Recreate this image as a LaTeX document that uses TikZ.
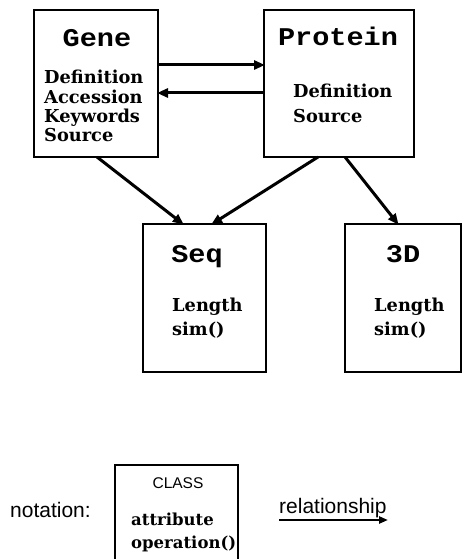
\documentclass[tikz,border=0pt]{standalone}
\usepackage{fontspec}
\setmainfont{DejaVu Serif}
\newfontfamily\titlefont{Liberation Mono}[FakeStretch=1.12]
\newfontfamily\labelfont{Liberation Sans}
\usetikzlibrary{arrows.meta}
\tikzset{
  classbox/.style={draw, line width=2.4pt, inner sep=0pt, outer sep=0pt},
  classname/.style={font=\titlefont\bfseries\fontsize{25.5}{25.5}\selectfont, anchor=base, inner sep=0pt},
  attr/.style={font=\bfseries\fontsize{17.8}{17.8}\selectfont, anchor=base west, inner sep=0pt},
  sanslabel/.style={font=\labelfont\fontsize{21}{21}\selectfont, anchor=base west, inner sep=0pt},
  rel/.style={line width=3pt, -{Triangle[length=11pt,width=9pt]}, shorten >=-1pt},
}
\begin{document}
\begin{tikzpicture}[x=1pt,y=-1pt]
\useasboundingbox (0,0) rectangle (463,559);
\clip (0,0) rectangle (463,559);

% class boxes
\node[classbox, minimum width=124pt, minimum height=147pt] (gene) at (96,83.5) {};
\node[classbox, minimum width=150pt, minimum height=147pt] (protein) at (339,83.5) {};
\node[classbox, minimum width=123pt, minimum height=148pt] (seq) at (204.5,298) {};
\node[classbox, minimum width=116pt, minimum height=148pt] (threed) at (403,298) {};

% class names
\node[classname] (geneT) at (97,47) {Gene};
\node[classname] (proteinT) at (338,46) {Protein};
\node[classname] (seqT) at (197,262) {Seq};
\node[classname] (threedT) at (403,262) {3D};

% attributes and operations
\node[attr] (g1) at (44,84) {Definition};
\node[attr] (g2) at (44,103) {Accession};
\node[attr] (g3) at (44,122) {Keywords};
\node[attr] (g4) at (44,142) {Source};
\node[attr] (p1) at (293,98) {Definition};
\node[attr] (p2) at (293,122) {Source};
\node[attr] (s1) at (172,311) {Length};
\node[attr] (s2) at (172,335) {sim()};
\node[attr] (t1) at (374,311) {Length};
\node[attr] (t2) at (374,335) {sim()};

% relationships
\draw[rel] (gene.east |- 0,65) -- (protein.west |- 0,65);
\draw[rel] (protein.west |- 0,93) -- (gene.east |- 0,93);
\draw[rel] (gene.south -| 97,0) -- (seq.north -| 183,0);
\draw[rel] (protein.south -| 318,0) -- (seq.north -| 212,0);
\draw[rel] (protein.south -| 345,0) -- (threed.north -| 398,0);

% notation legend
\node[sanslabel] (notation) at (10,517) {notation:};
\node[classbox, minimum width=123pt, minimum height=110pt] (legend) at (176.5,520) {};
\node[font=\labelfont\fontsize{15.5}{15.5}\selectfont, anchor=base, inner sep=0pt] (legendT) at (178,488) {CLASS};
\node[attr, font=\bfseries\fontsize{16.5}{16.5}\selectfont] (la) at (131,525) {attribute};
\node[attr, font=\bfseries\fontsize{16.5}{16.5}\selectfont] (lo) at (131,548) {operation()};
\node[sanslabel] (relT) at (279,513) {relationship};
\coordinate (relA) at (279,520);
\coordinate (relB) at (388,520);
\draw[line width=2.6pt, -{Triangle[length=9pt,width=7pt]}] (relA) -- (relB);
\end{tikzpicture}
\end{document}
